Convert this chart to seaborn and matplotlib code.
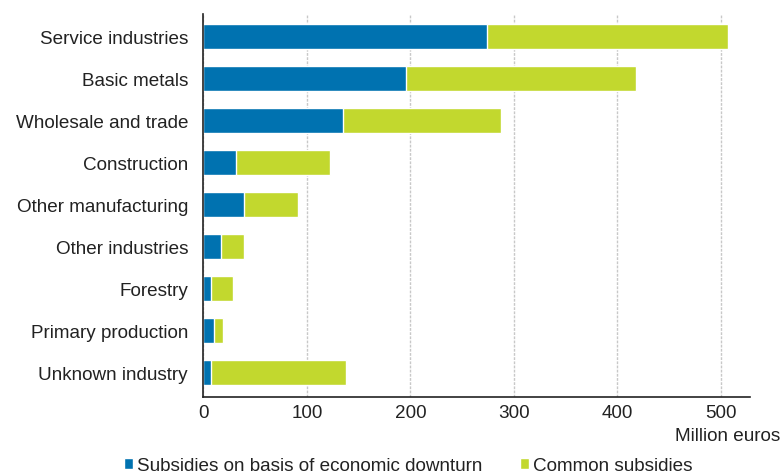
import pandas as pd
import numpy as np
import seaborn as sns
import matplotlib.pyplot as plt

industries = [
    "Service industries",
    "Basic metals",
    "Wholesale and trade",
    "Construction",
    "Other manufacturing",
    "Other industries",
    "Forestry",
    "Primary production",
    "Unknown industry",
]
downturn = [274, 196, 135, 32, 39, 17, 7, 10, 7]
common = [233, 222, 153, 90, 52, 22, 22, 9, 131]

blue = "#0072B0"
green = "#C2D82E"

sns.set_style("white")
plt.rcParams["font.family"] = ["Liberation Sans", "DejaVu Sans"]

df = pd.DataFrame({
    "Industry": industries,
    "Downturn": downturn,
    "Total": np.array(downturn) + np.array(common),
})

fig = plt.figure(figsize=(7.82, 4.77), dpi=100)
ax = fig.add_axes([0.26, 0.166, 0.699, 0.803])

sns.barplot(data=df, y="Industry", x="Total", color=green, width=0.6,
            saturation=1, orient="h", ax=ax, label="Common subsidies")
sns.barplot(data=df, y="Industry", x="Downturn", color=blue, width=0.6,
            saturation=1, orient="h", ax=ax,
            label="Subsidies on basis of economic downturn")

fs = 13.6
ax.set_xlim(0, 528)
ax.set_ylim(len(industries) - 0.43, -0.55)
ax.set_xticks([0, 100, 200, 300, 400, 500])
ax.set_xlabel("")
ax.set_ylabel("")
ax.tick_params(axis="both", labelsize=fs, length=0, labelcolor="#222222")
ax.tick_params(axis="x", pad=5)
ax.tick_params(axis="y", pad=11)
ax.grid(axis="x", color="#c8c8c8", linestyle=(0, (2, 1)), linewidth=1)
ax.set_axisbelow(True)
for side in ["top", "right"]:
    ax.spines[side].set_visible(False)
for side in ["left", "bottom"]:
    ax.spines[side].set_color("#222222")
    ax.spines[side].set_linewidth(1.2)

fig.text(0.998, 0.084, "Million euros", ha="right", va="center",
         fontsize=fs, color="#222222")

handles, labels = ax.get_legend_handles_labels()
order = [labels.index("Subsidies on basis of economic downturn"),
         labels.index("Common subsidies")]
ax.legend([handles[i] for i in order], [labels[i] for i in order],
          loc="center", bbox_to_anchor=(0.522, 0.022), bbox_transform=fig.transFigure,
          ncol=2, frameon=False, fontsize=fs, handlelength=0.5,
          handleheight=0.5, handletextpad=0.2, columnspacing=2.0,
          labelcolor="#222222")

fig.savefig("out.png", dpi=100)
